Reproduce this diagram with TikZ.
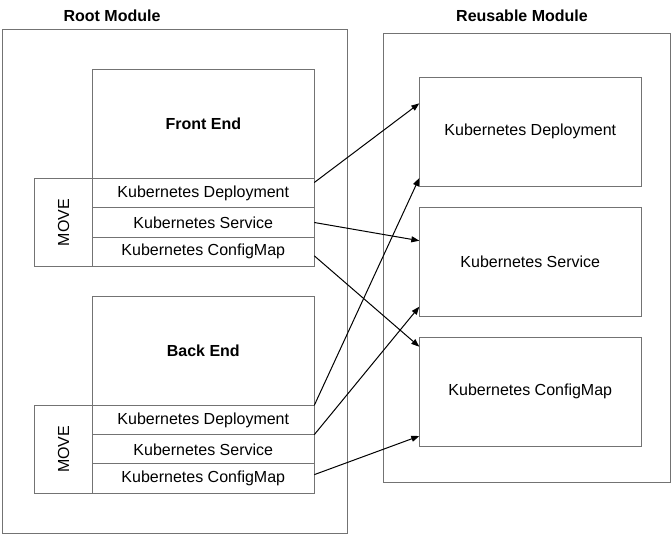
\documentclass[tikz,border=0pt]{standalone}
\usepackage{fontspec}
\setmainfont{Liberation Sans}
\usetikzlibrary{arrows.meta, positioning}

\begin{document}
\begin{tikzpicture}[x=0.75pt, y=-0.75pt,
	every node/.style={font=\fontsize{12}{14}\selectfont, inner sep=0pt, outer sep=0pt},
	frame/.style={draw=black!55, line width=0.75pt},
	head/.style={frame, minimum width=166.5pt, minimum height=81.75pt, font=\fontsize{12}{14}\selectfont\bfseries},
	row/.style={frame, minimum width=166.5pt, minimum height=22pt},
	movebox/.style={frame, minimum width=43.2pt, minimum height=66pt},
	target/.style={frame, minimum width=166.5pt, minimum height=81.5pt},
	link/.style={line width=0.75pt, -{Triangle[length=6pt, width=4.5pt]}}]
	\useasboundingbox (0, 0) rectangle (671, 534);
	
	% Modules
	\draw[frame] (2, 30) rectangle (347.5, 533);
	\draw[frame] (383.3, 33.3) rectangle (670.3, 482.7);
	\node[font=\fontsize{12}{14}\selectfont\bfseries] (rootT) at (112, 15.5) {Root Module};
	\node[font=\fontsize{12}{14}\selectfont\bfseries] (reuseT) at (522, 15.5) {Reusable Module};
	
	% Front End
	\node[head] (front) at (203.3, 124) {Front End};
	\node[row, below=0pt of front] (fdep) {Kubernetes Deployment};
	\node[row, below=0pt of fdep] (fsvc) {Kubernetes Service};
	\node[row, below=0pt of fsvc] (fcm) {Kubernetes ConfigMap};
	\node[movebox, left=0pt of fsvc] (fmove) {};
	\node[rotate=90] at (fmove) {MOVE};
	
	% Back End
	\node[head] (back) at (203.3, 350.8) {Back End};
	\node[row, below=0pt of back] (bdep) {Kubernetes Deployment};
	\node[row, below=0pt of bdep] (bsvc) {Kubernetes Service};
	\node[row, below=0pt of bsvc] (bcm) {Kubernetes ConfigMap};
	\node[movebox, left=0pt of bsvc] (bmove) {};
	\node[rotate=90] at (bmove) {MOVE};
	
	% Reusable resources
	\node[target] (kdep) at (530.3, 131.7) {Kubernetes Deployment};
	\node[target] (ksvc) at (530.3, 261.7) {Kubernetes Service};
	\node[target] (kcm) at (530.3, 391.7) {Kubernetes ConfigMap};
	
	% Arrows
	\draw[link] ([yshift=-3pt]fdep.north east) -- ([yshift=-19.5pt]kdep.north west);
	\draw[link] (fsvc.east) -- ([yshift=-25pt]ksvc.north west);
	\draw[link] ([yshift=-14pt]fcm.north east) -- ([yshift=-7pt]kcm.north west);
	\draw[link] (bdep.north east) -- ([yshift=6pt]kdep.south west);
	\draw[link] (bsvc.north east) -- ([yshift=7pt]ksvc.south west);
	\draw[link] ([yshift=-8pt]bcm.north east) -- ([yshift=7.5pt]kcm.south west);
\end{tikzpicture}
\end{document}
